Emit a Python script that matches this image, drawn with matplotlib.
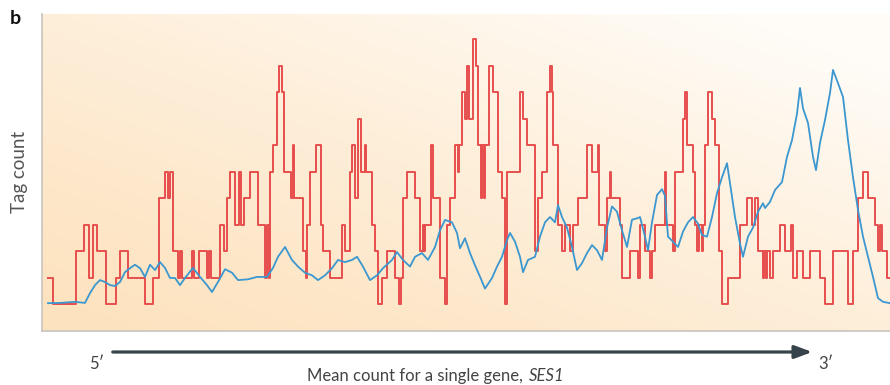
import numpy as np
import matplotlib
matplotlib.use('Agg')
import matplotlib.pyplot as plt
from matplotlib.patches import FancyArrowPatch

plt.rcParams['font.family'] = ['Lato', 'DejaVu Sans']

# red: single-gene tag count, step changes (position, level)
red_x = [48, 53, 76, 84, 89, 93, 97, 106, 116, 120, 128, 145, 153, 159, 165, 168, 170, 173, 178, 180,
         182, 192, 194, 199, 207, 209, 211, 220, 224, 227, 230, 235, 239, 241, 244, 250, 258, 265, 267, 269,
         270, 273, 277, 279, 282, 284, 291, 293, 294, 303, 306, 307, 310, 316, 321, 323, 330, 342, 345, 350,
         352, 355, 358, 361, 365, 366, 372, 375, 378, 382, 387, 395, 399, 401, 403, 407, 415, 420, 423, 424,
         425, 431, 433, 440, 445, 447, 450, 455, 458, 459, 462, 465, 467, 469, 473, 476, 478, 481, 482, 484,
         485, 489, 493, 498, 502, 505, 507, 520, 523, 527, 535, 538, 542, 547, 550, 552, 553, 558, 562, 565,
         570, 573, 578, 587, 592, 598, 599, 605, 607, 610, 611, 620, 622, 630, 638, 640, 645, 650, 652, 655,
         665, 666, 673, 675, 683, 685, 687, 693, 695, 697, 699, 702, 703, 705, 708, 712, 715, 719, 722, 728,
         740, 747, 752, 755, 758, 763, 764, 766, 767, 770, 773, 780, 785, 791, 793, 797, 803, 810, 820, 825,
         833, 848, 853, 858, 863, 868, 875, 878, 880, 882, 887, 890]
red_v = [2, 1, 3, 4, 2, 4, 3, 1, 2, 3, 2, 1, 2, 5, 6, 5, 6, 3, 2, 3,
         2, 3, 2, 3, 2, 3, 2, 4, 3, 5, 6, 4, 6, 4, 5, 6, 4, 2, 4, 2,
         6, 7, 9, 10, 9, 6, 5, 7, 5, 3, 2, 4, 6, 7, 4, 3, 2, 4, 3, 6,
         7, 5, 8, 6, 7, 6, 4, 3, 1, 2, 3, 2, 1, 2, 5, 6, 5, 3, 4, 3,
         4, 7, 5, 2, 1, 4, 5, 7, 6, 7, 9, 8, 10, 8, 11, 10, 7, 5, 7, 5,
         7, 10, 9, 6, 5, 1, 6, 9, 8, 7, 3, 5, 6, 9, 10, 9, 7, 4, 3, 4,
         3, 4, 5, 7, 6, 7, 4, 3, 5, 6, 5, 4, 2, 3, 2, 4, 3, 2, 3, 4,
         6, 4, 3, 6, 8, 9, 7, 6, 4, 3, 4, 3, 4, 7, 9, 8, 7, 3, 1, 2,
         4, 5, 4, 5, 3, 2, 3, 2, 3, 2, 3, 4, 3, 4, 2, 3, 2, 3, 2, 1,
         3, 1, 3, 5, 6, 5, 4, 3, 4, 3, 2, 2]

# blue: mean count profile
blue_x = [48, 60, 75, 85, 90, 95, 100, 105, 110, 115, 120, 125, 130, 135, 140, 145, 150, 155, 160, 165,
          170, 175, 180, 185, 193, 200, 207, 212, 218, 225, 232, 238, 248, 257, 267, 273, 278, 285, 292, 298,
          305, 312, 318, 325, 332, 338, 345, 352, 357, 363, 370, 377, 383, 392, 397, 403, 410, 415, 422, 428,
          435, 440, 445, 452, 457, 460, 465, 470, 475, 480, 485, 492, 497, 502, 507, 510, 515, 520, 523, 528,
          535, 540, 545, 550, 555, 558, 562, 567, 572, 577, 582, 587, 592, 597, 602, 607, 612, 617, 622, 627,
          632, 637, 640, 645, 648, 652, 657, 662, 665, 668, 673, 678, 683, 688, 693, 698, 702, 707, 712, 717,
          722, 727, 730, 735, 740, 743, 748, 753, 758, 763, 765, 770, 775, 782, 787, 792, 797, 800, 803, 808,
          813, 816, 820, 825, 830, 833, 838, 843, 848, 853, 858, 863, 868, 873, 878, 883, 890]
blue_v = [1.05, 1.06, 1.1, 1.06, 1.43, 1.73, 1.92, 1.85, 1.73, 1.7, 1.85, 2.22, 2.37, 2.5, 2.37, 2.04, 2.5, 2.3, 2.6, 2.38,
          2.0, 2.0, 1.73, 2.0, 2.38, 2.04, 1.73, 1.47, 1.85, 2.33, 2.2, 1.92, 1.95, 2.04, 2.04, 2.38, 2.8, 3.17, 2.68, 2.43,
          2.2, 2.1, 1.92, 2.1, 2.37, 2.68, 2.6, 2.68, 2.8, 2.43, 1.92, 2.1, 2.37, 2.68, 2.98, 2.68, 2.43, 2.8, 2.94, 2.68,
          3.17, 3.8, 4.19, 4.1, 3.7, 3.12, 3.5, 2.94, 2.48, 2.05, 1.6, 2.0, 2.43, 2.8, 3.43, 3.7, 3.37, 2.8, 2.22, 2.68,
          2.8, 3.56, 4.1, 4.3, 4.1, 4.75, 4.3, 3.9, 3.17, 2.3, 2.56, 2.94, 3.24, 3.05, 2.68, 3.9, 4.7, 4.5, 3.8, 3.17,
          4.2, 4.25, 4.3, 3.56, 3.05, 4.1, 5.13, 5.35, 5.1, 3.56, 3.37, 3.17, 3.75, 4.1, 4.3, 4.05, 3.62, 3.56, 4.3, 5.2,
          5.8, 6.33, 5.58, 4.3, 3.3, 2.8, 3.56, 3.9, 4.5, 4.82, 4.64, 4.87, 5.32, 5.62, 6.57, 7.2, 8.2, 9.17, 8.4, 7.85,
          6.57, 6.07, 7.1, 7.96, 8.98, 9.85, 9.35, 8.83, 7.2, 5.8, 4.57, 3.56, 2.8, 2.04, 1.24, 1.1, 1.05]

fig = plt.figure(figsize=(8.9, 3.85), dpi=100)
ax = fig.add_axes([42/890, 54/385, 848/890, 317/385])

# peach-to-white background
nx, ny = 200, 100
xf = np.linspace(0, 1, nx)[None, :]
yf = np.linspace(0, 1, ny)[:, None]
w = np.clip(0.55 * xf + 0.55 * yf, 0, 1) ** 1.2
peach = np.array([253, 226, 190]) / 255
white = np.array([255, 252, 247]) / 255
bg = peach[None, None, :] * (1 - w[..., None]) + white[None, None, :] * w[..., None]
ax.imshow(bg, extent=[42, 890, 0, 11.96], origin='lower', aspect='auto', zorder=0)

ax.step(red_x, red_v, where='post', color='#e43d3f', lw=1.4, alpha=0.9, zorder=2)
ax.plot(blue_x, blue_v, color='#3b97cf', lw=1.3, zorder=3)

ax.set_xlim(42, 890)
ax.set_ylim(0, 11.96)
ax.set_xticks([])
ax.set_yticks([])
for s in ['top', 'right']:
    ax.spines[s].set_visible(False)
for s in ['left', 'bottom']:
    ax.spines[s].set_color('#c8c4be')
    ax.spines[s].set_linewidth(1.2)

fig.text(10/890, 1 - 18/385, 'b', fontsize=14, fontweight='bold', va='center', ha='left', color='#111111')
fig.text(19/890, 1 - 172/385, 'Tag count', rotation=90, fontsize=13.5, va='center', ha='center', color='#555555')

arr = FancyArrowPatch((110/890, 1 - 352/385), (815/890, 1 - 352/385), transform=fig.transFigure,
                      arrowstyle='-|>,head_length=7,head_width=2.6', mutation_scale=1.5,
                      color='#36434a', lw=2.3)
fig.add_artist(arr)
fig.text(97/890, 1 - 364/385, '5\u2032', fontsize=12, ha='center', va='center', color='#444444')
fig.text(826/890, 1 - 364/385, '3\u2032', fontsize=12, ha='center', va='center', color='#444444')
fig.text(527/890, 1 - 376/385, 'Mean count for a single gene, ', fontsize=12, ha='right', va='center', color='#444444')
fig.text(529/890, 1 - 376/385, 'SES1', fontsize=12, ha='left', va='center', color='#444444', style='italic')

fig.savefig('out.png', dpi=100)
